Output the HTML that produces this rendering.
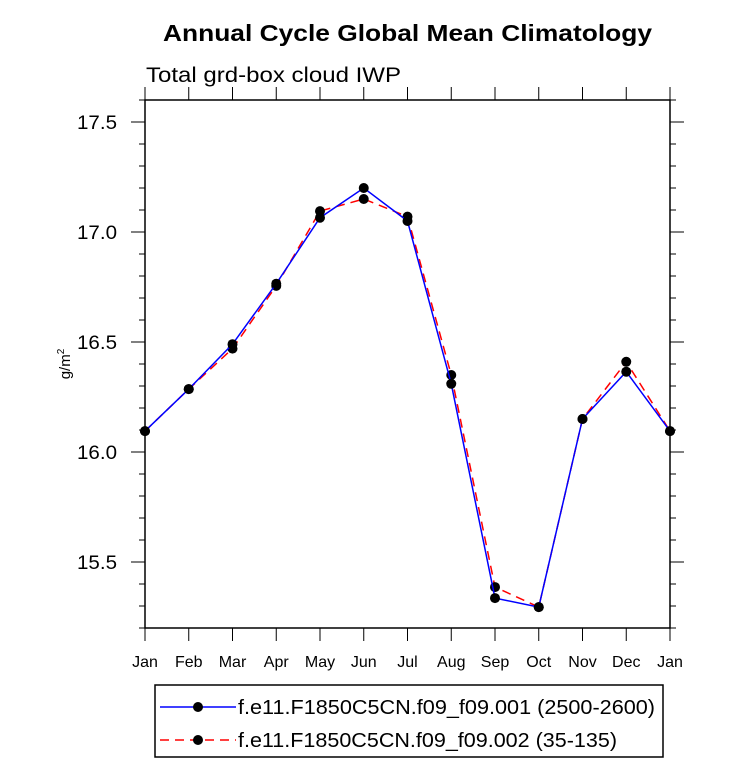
<!DOCTYPE html>
<html><head><meta charset="utf-8"><style>
body{margin:0;background:#fff;width:733px;height:764px;overflow:hidden;font-family:"Liberation Sans",sans-serif}
</style></head><body>
<svg id="chart" width="733" height="764" xmlns="http://www.w3.org/2000/svg" font-family="Liberation Sans, sans-serif"></svg>
<script>
const months=["Jan","Feb","Mar","Apr","May","Jun","Jul","Aug","Sep","Oct","Nov","Dec","Jan"];
const series1=[16.095,16.286,16.49,16.765,17.065,17.2,17.05,16.31,15.336,15.295,16.15,16.365,16.095];
const series2=[16.095,16.286,16.47,16.755,17.095,17.15,17.07,16.35,15.386,15.295,16.15,16.41,16.095];
const yTicks=[15.5,16.0,16.5,17.0,17.5];
const yTickLabels=["15.5","16.0","16.5","17.0","17.5"];
const x0=145,x1=670,yTop=100,yBot=628,vMin=15.2,vMax=17.6;
const sx=i=>x0+(x1-x0)*i/(months.length-1);
const sy=v=>yBot-(v-vMin)/(vMax-vMin)*(yBot-yTop);
const svg=document.getElementById('chart');
const NS="http://www.w3.org/2000/svg";
function mk(t,a,p){const e=document.createElementNS(NS,t);for(const k in a)e.setAttribute(k,a[k]);(p||svg).appendChild(e);return e;}
let e;
e=mk('text',{x:163,y:41,'font-size':23,'font-weight':'bold',textLength:489,lengthAdjust:'spacingAndGlyphs'});e.textContent="Annual Cycle Global Mean Climatology";


e=mk('text',{x:146,y:82,'font-size':21,textLength:255,lengthAdjust:'spacingAndGlyphs'});e.textContent="Total grd-box cloud IWP";


e=mk('rect',{x:x0,y:yTop,width:x1-x0,height:yBot-yTop,fill:'none',stroke:'#000','stroke-width':1.5});


for(let v=15.2;v<=17.601;v+=0.1){const y=sy(v);const major=yTicks.some(t=>Math.abs(t-v)<1e-6);const L=major?14:6;
mk('line',{x1:x0,x2:x0-L,y1:y,y2:y,stroke:'#000','stroke-width':1});mk('line',{x1:x1,x2:x1+L,y1:y,y2:y,stroke:'#000','stroke-width':1});}
yTicks.forEach((v,i)=>{e=mk('text',{x:77,y:sy(v)+7,'font-size':19,textLength:40,lengthAdjust:'spacingAndGlyphs'});e.textContent=yTickLabels[i];

});
months.forEach((m,i)=>{const x=sx(i);mk('line',{x1:x,x2:x,y1:yBot,y2:yBot+13,stroke:'#000'});
mk('line',{x1:x,x2:x,y1:yTop,y2:yTop-13,stroke:'#000'});
e=mk('text',{x:x,y:667,'text-anchor':'middle','font-size':16});e.textContent=m;

});
e=mk('text',{x:0,y:0,'font-size':15,transform:'translate(70,364) rotate(-90)','text-anchor':'middle'});
e.innerHTML='g/m<tspan dy="-6" font-size="10">2</tspan>';


function line(data,color,dash,name){const pts=data.map((v,i)=>sx(i)+','+sy(v)).join(' ');
e=mk('polyline',{points:pts,fill:'none',stroke:color,'stroke-width':1.5,'stroke-dasharray':dash});


data.forEach((v,i)=>{e=mk('circle',{cx:sx(i),cy:sy(v),r:5,fill:'#000'});

});}
line(series2,'#f00','9,6','series-002');
line(series1,'#00f','none','series-001');
e=mk('rect',{x:155,y:685,width:508,height:72,fill:'#fff',stroke:'#000','stroke-width':1.5});


mk('line',{x1:160,x2:236,y1:707,y2:707,stroke:'#00f','stroke-width':1.5});
mk('circle',{cx:198,cy:707,r:5,fill:'#000'});
e=mk('text',{x:238,y:714,'font-size':20,textLength:417,lengthAdjust:'spacingAndGlyphs'});e.textContent="f.e11.F1850C5CN.f09_f09.001 (2500-2600)";


mk('line',{x1:160,x2:236,y1:740,y2:740,stroke:'#f00','stroke-width':1.5,'stroke-dasharray':'9,6'});
mk('circle',{cx:198,cy:740,r:5,fill:'#000'});
e=mk('text',{x:238,y:747,'font-size':20,textLength:379,lengthAdjust:'spacingAndGlyphs'});e.textContent="f.e11.F1850C5CN.f09_f09.002 (35-135)";


</script>
</body></html>
